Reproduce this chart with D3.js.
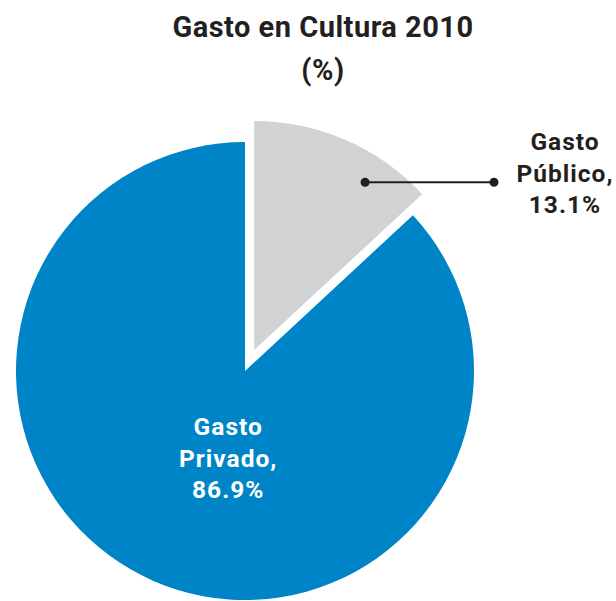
<!DOCTYPE html>
<html>
<head>
<meta charset="utf-8">
<script src="https://cdn.jsdelivr.net/npm/d3@7"></script>
<style>
  html, body { margin: 0; padding: 0; background: #fff; }
  svg { display: block; }
  text { font-family: Roboto, "Noto Sans", sans-serif; font-weight: 700; }
</style>
</head>
<body>
<svg id="chart" width="616" height="601"></svg>
<script>
// Gasto en Cultura 2010, share of spending (%)
const categories = ["Gasto Público", "Gasto Privado"];
const values = [13.1, 86.9];
const labelLines = [["Gasto", "Público,", "13.1%"], ["Gasto", "Privado,", "86.9%"]];
const titleLines = ["Gasto en Cultura 2010", "(%)"];

const colors = d3.scaleOrdinal().domain(categories).range(["#d1d2d4", "#0084c8"]);
const ink = "#231f20";

const W = 616, H = 601;
const cx = 245, cy = 371, R = 229;
const explode = 23; // outward shift of the public slice

const svg = d3.select("#chart");

// Title
svg.append("g").selectAll("text").data(titleLines).join("text")
  .attr("x", 323)
  .attr("y", (d, i) => 37 + i * 43)
  .attr("text-anchor", "middle")
  .attr("font-size", 29)
  .attr("letter-spacing", 0.5)
  .attr("fill", ink)
  .text(d => d);

const pie = d3.pie().sort(null).value(d => d.value);
const arcs = pie(categories.map((c, i) => ({ category: c, value: values[i], lines: labelLines[i] })));
const arc = d3.arc().innerRadius(0).outerRadius(R);

const shift = a => {
  if (a.index !== 0) return [0, 0];
  const m = (a.startAngle + a.endAngle) / 2;
  return [Math.sin(m) * explode, -Math.cos(m) * explode];
};

const g = svg.append("g").attr("transform", `translate(${cx},${cy})`);

g.selectAll("path").data(arcs).join("path")
  .attr("d", arc)
  .attr("transform", d => `translate(${shift(d)})`)
  .attr("fill", d => colors(d.data.category));

// Public slice: leader line to outside label
const pub = arcs[0];
const [sx, sy] = shift(pub);
const leadAngle = pub.startAngle + (pub.endAngle - pub.startAngle) * 0.71;
const leadR = 201;
const p0 = [sx + Math.sin(leadAngle) * leadR, sy - Math.cos(leadAngle) * leadR];
const p1 = [494 - cx, p0[1]];

g.append("line")
  .attr("x1", p0[0]).attr("y1", p0[1])
  .attr("x2", p1[0]).attr("y2", p1[1])
  .attr("stroke", ink).attr("stroke-width", 2);
g.selectAll("circle.dot").data([p0, p1]).join("circle")
  .attr("class", "dot")
  .attr("cx", d => d[0]).attr("cy", d => d[1])
  .attr("r", 4.5).attr("fill", ink);

g.append("g").selectAll("text").data(pub.data.lines).join("text")
  .attr("x", 565 - cx)
  .attr("y", (d, i) => 150 - cy + i * 31.5)
  .attr("text-anchor", "middle")
  .attr("font-size", 24.5)
  .attr("letter-spacing", 1)
  .attr("fill", ink)
  .text(d => d);

// Private slice: label inside
const priv = arcs[1];
const labelArc = d3.arc().innerRadius(92).outerRadius(92);
const [lx, ly] = labelArc.centroid(priv);
g.append("g").selectAll("text").data(priv.data.lines).join("text")
  .attr("x", lx + 20)
  .attr("y", (d, i) => ly - 20 + i * 31.5)
  .attr("text-anchor", "middle")
  .attr("font-size", 24.5)
  .attr("letter-spacing", 1)
  .attr("fill", "#ffffff")
  .text(d => d);
</script>
</body>
</html>
